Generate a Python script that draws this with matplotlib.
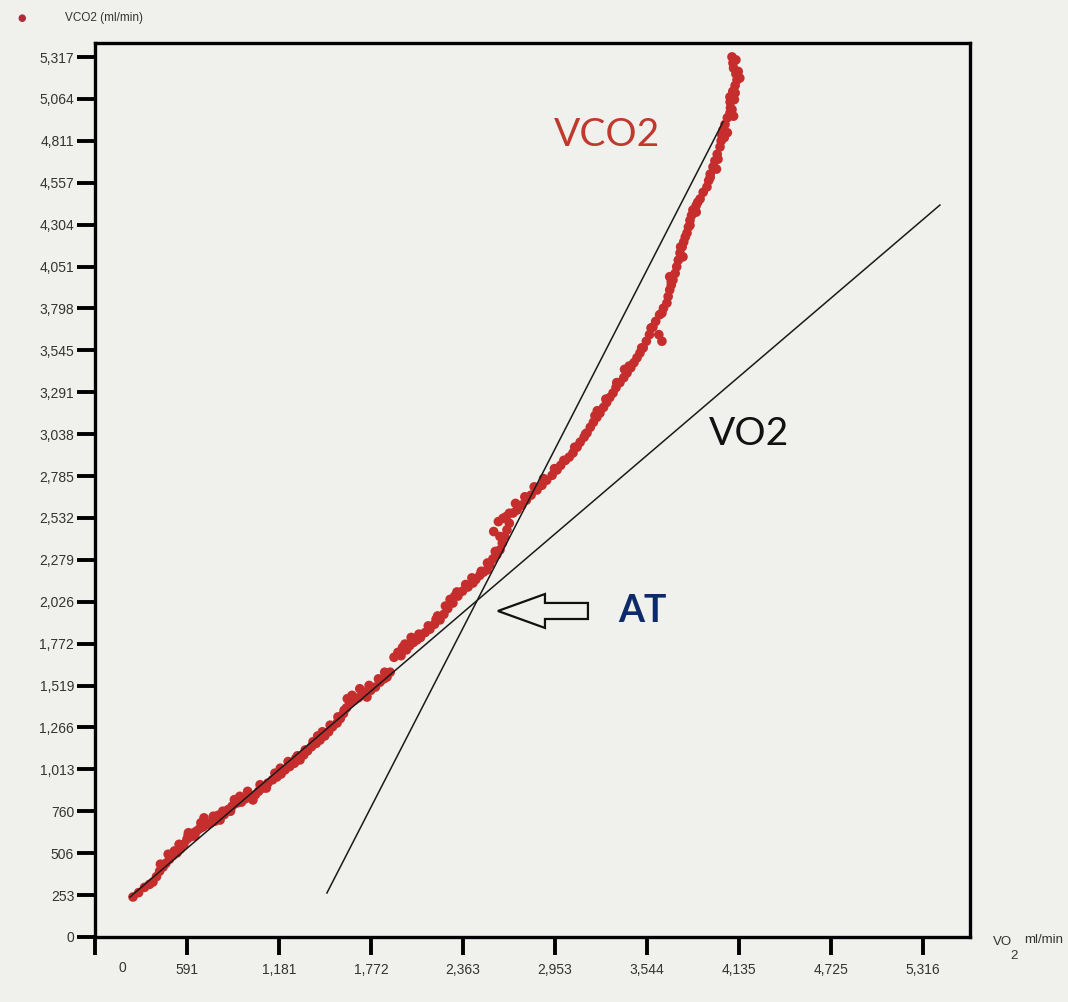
import matplotlib
matplotlib.use("Agg")
import matplotlib.pyplot as plt
import matplotlib.patches as mpatches

# VO2 / VCO2 breath samples (ml/min)
vo2 = [244, 280, 318, 350, 372, 395, 415, 437, 455, 478, 500, 526, 510,
       548, 570, 590, 610, 598, 630, 652, 672, 693, 680, 720, 745, 770, 803, 790,
       830, 855, 880, 912, 895, 940, 965, 990, 1014, 1030,
       1050, 1080, 1110, 1140, 1168, 1155, 1195, 1220, 1250, 1280, 1316, 1300,
       1340, 1365, 1390, 1420, 1445, 1430, 1475, 1500, 1525, 1554,
       1575, 1595, 1615, 1637, 1620, 1665, 1690, 1715, 1746, 1730,
       1770, 1800, 1830, 1855, 1875, 1895, 1920, 1945, 1975, 2000, 1965,
       2020, 2045, 2067, 2090, 2120, 2150, 2180, 2215, 2200,
       2240, 2265, 2298, 2280, 2324, 2330, 2360, 2395, 2427,
       2445, 2470, 2495, 2517, 2535, 2555, 2580, 2600,
       2615, 2630, 2645, 2660, 2684, 2640, 2560, 2590, 2620,
       2710, 2740, 2770, 2800, 2838, 2870, 2900, 2935, 2966,
       2990, 3020, 3045, 3069, 3095, 3115, 3140, 3159,
       3180, 3200, 3222, 3242, 3225, 3265, 3285, 3305, 3326,
       3345, 3370, 3395, 3416, 3400, 3440, 3460, 3480, 3499, 3620, 3640,
       3520, 3540, 3560, 3582, 3600, 3625, 3650, 3672,
       3680, 3690, 3700, 3711, 3690, 3725, 3735, 3745, 3756, 3775,
       3770, 3780, 3790, 3801, 3810, 3820, 3830, 3839, 3860,
       3860, 3885, 3905, 3929, 3940, 3950, 3968, 3990,
       3980, 3995, 4013, 4020, 4025, 4032, 4060, 4045, 4060, 4077, 4100,
       4080, 4078, 4077, 4105, 4095, 4110, 4122, 4140,
       4115, 4100, 4096, 4090, 4115,
       420, 470, 540, 600, 640, 700, 760, 820, 870, 930, 980, 1060, 1100,
       1190, 1240, 1290, 1350, 1400, 1460, 1510, 1560, 1600, 1650, 1700,
       1760, 1820, 1860, 1990, 2030, 2080, 2140, 2190, 2250, 2310, 2380,
       2420, 2480, 2520, 2570, 2600, 2660, 2700, 2760, 2820, 2880, 2950,
       3010, 3080, 3150, 3210, 3280, 3350, 3430, 3510, 3570, 3640, 3700,
       3760, 3820, 3870, 3950, 4000, 4040, 4090, 4110, 4130]
vco2 = [242, 268, 300, 318, 332, 365, 398, 423, 445, 470, 492, 508, 520,
        532, 560, 590, 604, 615, 628, 640, 655, 665, 690, 680, 690, 700, 707, 735,
        740, 770, 790, 810, 830, 815, 835, 845, 828, 860,
        880, 900, 930, 950, 967, 990, 985, 1010, 1030, 1050, 1070, 1095,
        1100, 1125, 1150, 1170, 1190, 1215, 1215, 1240, 1270, 1293,
        1320, 1350, 1385, 1414, 1440, 1430, 1445, 1460, 1450, 1480,
        1490, 1510, 1540, 1560, 1571, 1600, 1690, 1720, 1750, 1735, 1700,
        1760, 1780, 1795, 1810, 1840, 1860, 1890, 1916, 1940,
        1950, 1985, 2018, 2040, 2085, 2060, 2090, 2115, 2139,
        2160, 2185, 2205, 2218, 2250, 2285, 2310, 2339,
        2380, 2420, 2460, 2500, 2562, 2540, 2450, 2510, 2530,
        2580, 2610, 2640, 2670, 2701, 2730, 2760, 2790, 2822,
        2850, 2880, 2900, 2925, 2960, 2990, 3020, 3046,
        3080, 3110, 3140, 3166, 3180, 3200, 3230, 3260, 3287,
        3320, 3350, 3380, 3408, 3430, 3440, 3470, 3500, 3529, 3640, 3600,
        3560, 3600, 3640, 3686, 3720, 3760, 3800, 3831,
        3870, 3910, 3940, 3970, 3990, 4010, 4050, 4090, 4133, 4110,
        4170, 4200, 4230, 4254, 4290, 4330, 4360, 4393, 4380,
        4420, 4460, 4500, 4532, 4570, 4610, 4653, 4640,
        4690, 4730, 4774, 4810, 4845, 4876, 4860, 4910, 4950, 4979, 4960,
        5010, 5045, 5076, 5060, 5110, 5145, 5179, 5190,
        5215, 5250, 5281, 5318, 5300,
        440, 500, 560, 630, 610, 720, 730, 760, 760, 850, 880, 920, 900,
        1020, 1060, 1080, 1130, 1180, 1240, 1280, 1330, 1370, 1460, 1500,
        1520, 1560, 1600, 1770, 1810, 1830, 1880, 1920, 2000, 2060, 2130,
        2170, 2210, 2260, 2330, 2420, 2560, 2620, 2660, 2720, 2770, 2830,
        2880, 2960, 3040, 3150, 3250, 3350, 3450, 3560, 3680, 3770, 3960,
        4170, 4300, 4440, 4590, 4700, 4830, 5000, 5100, 5230]

# regression lines below / above the threshold
vo2_line_x = [225, 5425]
vo2_line_y = [242, 4423]
vco2_line_x = [1489, 4032]
vco2_line_y = [266, 4925]

xtick_vals = [590.67 * i for i in range(10)]
xtick_labels = ["", "591", "1,181", "1,772", "2,363", "2,953", "3,544",
                "4,135", "4,725", "5,316"]
ytick_vals = [253.19 * i for i in range(22)]
ytick_labels = ["0", "253", "506", "760", "1,013", "1,266", "1,519", "1,772",
                "2,026", "2,279", "2,532", "2,785", "3,038", "3,291", "3,545",
                "3,798", "4,051", "4,304", "4,557", "4,811", "5,064", "5,317"]

bg = "#f0f0ec"
red = "#c62d2d"

fig = plt.figure(figsize=(10.68, 10.02), dpi=100, facecolor=bg)
ax = fig.add_axes([95 / 1068, 65 / 1002, 875 / 1068, 894 / 1002])
ax.set_facecolor(bg)

ax.plot(vo2_line_x, vo2_line_y, color="#1a1a1a", lw=1.1, zorder=3)
ax.plot(vco2_line_x, vco2_line_y, color="#1a1a1a", lw=1.1, zorder=3)
ax.scatter(vo2, vco2, s=48, color=red, edgecolors="none", zorder=2)

ax.set_xlim(0, 5618)
ax.set_ylim(0, 5402)
ax.set_xticks(xtick_vals)
ax.set_xticklabels(xtick_labels)
ax.set_yticks(ytick_vals)
ax.set_yticklabels(ytick_labels)
for sp in ax.spines.values():
    sp.set_linewidth(2.4)
ax.tick_params(axis="both", direction="out", length=13, width=2.8,
               labelsize=10, labelcolor="#333333")
ax.tick_params(axis="x", pad=6)
ax.tick_params(axis="y", pad=2)
for lab in ax.get_xticklabels() + ax.get_yticklabels():
    lab.set_family("Liberation Sans")
# the zero label sits a little right of its tick
ax.text(173, -190, "0", ha="center", va="center", fontsize=10,
        color="#333333", family="Liberation Sans", clip_on=False)

# hollow arrow pointing at the threshold
arrow = mpatches.FancyArrow(3165, 1970, -578, 0, width=97, head_width=205,
                            head_length=302, length_includes_head=True,
                            facecolor=bg, edgecolor="#111111", lw=1.6,
                            zorder=4)
ax.add_patch(arrow)

ax.text(3515, 1970, "AT", ha="center", va="center", fontsize=27,
        fontweight="bold", color="#0d2a6b", family="Lato")
ax.text(3290, 4845, "VCO2", ha="center", va="center", fontsize=28,
        color="#c0392f", family="Lato")
ax.text(4200, 3040, "VO2", ha="center", va="center", fontsize=28,
        color="#111111", family="Lato")

# top-left series key and axis captions
fig.text(22 / 1068, 1 - 18 / 1002, "\u25cf", color="#b02a3a", fontsize=7,
         ha="center", va="center")
fig.text(65 / 1068, 1 - 18 / 1002, "VCO2 (ml/min)", fontsize=8.5,
         color="#333333", ha="left", va="center", family="Liberation Sans")
fig.text(993 / 1068, 1 - 942 / 1002, "VO", fontsize=9.5, color="#333333",
         ha="left", va="center", family="Liberation Sans")
fig.text(1010 / 1068, 1 - 956 / 1002, "2", fontsize=9.5, color="#333333",
         ha="left", va="center", family="Liberation Sans")
fig.text(1024 / 1068, 1 - 940 / 1002, "ml/min", fontsize=9.5, color="#333333",
         ha="left", va="center", family="Liberation Sans")

fig.savefig("out.png", dpi=100, facecolor=bg)
